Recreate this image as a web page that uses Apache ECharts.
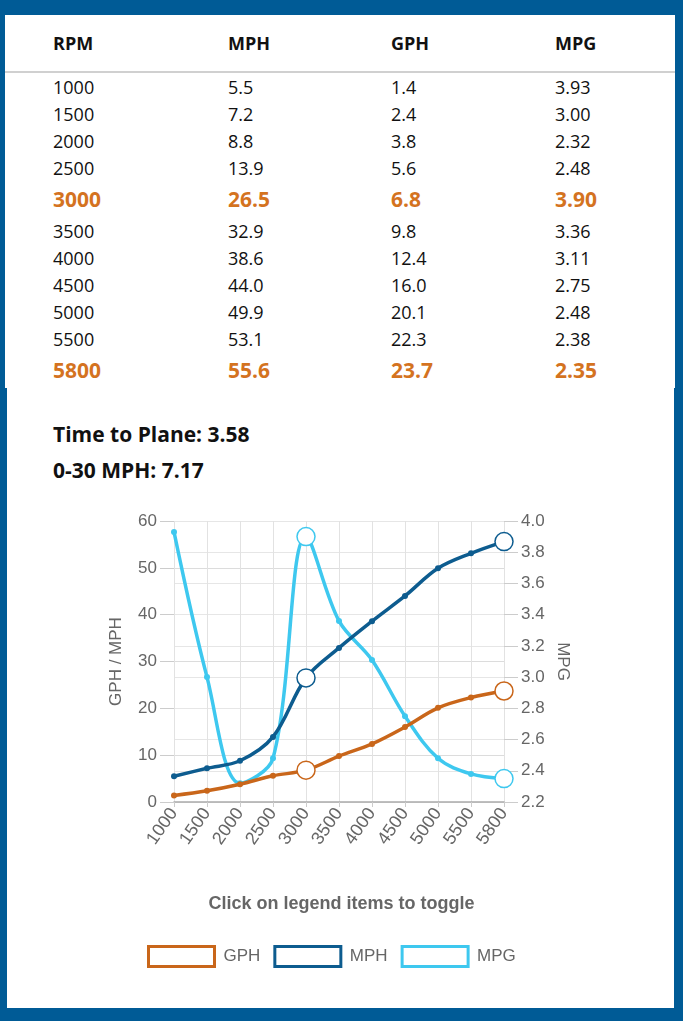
<!DOCTYPE html>
<html>
<head>
<meta charset="utf-8">
<script src="https://cdn.jsdelivr.net/npm/echarts@6/dist/echarts.min.js"></script>
<style>
  html, body { margin: 0; padding: 0; background: #005b96; }
  #page { position: relative; width: 683px; height: 1021px; overflow: hidden; background: #005b96; }
  #top { position: absolute; left: 5px; top: 15px; width: 670px; height: 373px; background: #fff; }
  #bottom { position: absolute; left: 7px; top: 388px; width: 667px; height: 620px; background: #fff; }
  table { position: absolute; left: 0; top: 0; width: 670px; border-collapse: collapse; table-layout: fixed;
          font-family: "Open Sans", sans-serif; color: #111; }
  th { font-weight: bold; font-size: 18px; text-align: left; height: 56px; padding: 0;
       border-bottom: 2px solid #d0d0d0; }
  td { font-size: 18px; height: 27px; padding: 0; line-height: 20px; }
  tr.hl td { font-weight: bold; font-size: 21px; color: #d4731f; height: 36px; }
  .info { position: absolute; left: 53px; font-family: "Open Sans", sans-serif; line-height: 28px;
          font-weight: bold; font-size: 21px; color: #111; }
  #chart { position: absolute; left: 0; top: 500px; width: 683px; height: 500px; }
</style>
</head>
<body>
<div id="page">
  <div id="top"><table id="tbl"></table></div>
  <div id="bottom"></div>
  <div class="info" style="top:420px">Time to Plane: 3.58</div>
  <div class="info" style="top:456px">0-30 MPH: 7.17</div>
  <div id="chart"></div>
</div>
<script>
const rpm = ['1000', '1500', '2000', '2500', '3000', '3500', '4000', '4500', '5000', '5500', '5800']
const mph = [5.5, 7.2, 8.8, 13.9, 26.5, 32.9, 38.6, 44.0, 49.9, 53.1, 55.6]
const gph = [1.4, 2.4, 3.8, 5.6, 6.8, 9.8, 12.4, 16.0, 20.1, 22.3, 23.7]
const mpg = [3.93, 3.00, 2.32, 2.48, 3.90, 3.36, 3.11, 2.75, 2.48, 2.38, 2.35]
const highlightRpm = ['3000', '5800']
const tableHeaders = ['RPM', 'MPH', 'GPH', 'MPG']
const leftTicks = { min: 0, max: 60, step: 10 }
const rightTicks = { min: 2.2, max: 4.0, step: 0.2 }

// table
const tbl = document.getElementById('tbl')
let html = '<colgroup><col style="width:48px"><col style="width:175px"><col style="width:163px">' +
           '<col style="width:164px"><col style="width:120px"></colgroup>'
html += '<tr><th></th>' + tableHeaders.map(h => `<th>${h}</th>`).join('') + '</tr>'
rpm.forEach((r, i) => {
  const cls = highlightRpm.includes(r) ? ' class="hl"' : ''
  html += `<tr${cls}><td></td><td>${r}</td><td>${mph[i].toFixed(1)}</td>` +
          `<td>${gph[i].toFixed(1)}</td><td>${mpg[i].toFixed(2)}</td></tr>`
})
tbl.innerHTML = html

const colors = { GPH: '#c9661a', MPH: '#0d5c8f', MPG: '#3ec8ef' }
const font = 'Liberation Sans, Arial'

function points(values, color) {
  return values.map((v, i) => highlightRpm.includes(rpm[i])
    ? { value: v, symbolSize: 18, itemStyle: { color: '#fff', borderColor: color, borderWidth: 1.5 } }
    : { value: v })
}

function lineSeries(name, values, yAxisIndex, z) {
  const c = colors[name]
  return {
    name, type: 'line', yAxisIndex, z, smooth: 0.35,
    data: points(values, c),
    symbol: 'circle', symbolSize: 6,
    lineStyle: { color: c, width: 3.5 },
    itemStyle: { color: c },
    emphasis: { disabled: true },
  }
}

const axisLabel = { color: '#666', fontFamily: font, fontSize: 17 }
const nameStyle = { color: '#666', fontSize: 17, fontFamily: font }

const chart = echarts.init(document.getElementById('chart'), null, { renderer: 'canvas' })
chart.setOption({
  animation: false,
  textStyle: { fontFamily: font },
  grid: { left: 174, right: 179, top: 21, bottom: 198, containLabel: false },
  title: {
    text: 'Click on legend items to toggle',
    left: 'center', top: 390,
    textStyle: { color: '#666', fontSize: 18, fontWeight: 'bold', fontFamily: font },
  },
  legend: {
    top: 440, left: 142,
    itemWidth: 66, itemHeight: 20, itemGap: 13,
    icon: 'rect',
    textStyle: { color: '#666', fontSize: 17, fontFamily: font, padding: [0, 0, 0, 4] },
    data: ['GPH', 'MPH', 'MPG'].map(n => ({
      name: n, itemStyle: { color: '#fff', borderColor: colors[n], borderWidth: 3 },
    })),
  },
  xAxis: {
    type: 'category', data: rpm, boundaryGap: false,
    axisLine: { lineStyle: { color: '#aaa', width: 1.5 } },
    axisTick: { show: true, length: 5, alignWithLabel: true, lineStyle: { color: '#ccc' } },
    axisLabel: { ...axisLabel, fontSize: 18, rotate: 55, margin: 8, interval: 0 },
    splitLine: { show: true, lineStyle: { color: '#e2e2e2' } },
  },
  yAxis: [
    {
      type: 'value', min: leftTicks.min, max: leftTicks.max, interval: leftTicks.step,
      name: 'GPH / MPH', nameLocation: 'middle', nameGap: 49, nameRotate: 90,
      nameTextStyle: nameStyle,
      axisLine: { show: false },
      axisTick: { show: true, length: 14, lineStyle: { color: '#ccc' } },
      axisLabel: { ...axisLabel, margin: 17 },
      splitLine: { lineStyle: { color: '#dcdcdc' } },
    },
    {
      type: 'value', min: rightTicks.min, max: rightTicks.max, interval: rightTicks.step,
      name: 'MPG', nameLocation: 'middle', nameGap: 50, nameRotate: -90,
      nameTextStyle: nameStyle,
      axisLine: { show: false },
      axisTick: { show: true, length: 14, lineStyle: { color: '#ccc' } },
      axisLabel: { ...axisLabel, margin: 17, formatter: v => v.toFixed(1) },
      splitLine: { show: true, lineStyle: { color: '#e6e6e6' } },
    },
  ],
  series: [
    lineSeries('GPH', gph, 0, 3),
    lineSeries('MPH', mph, 0, 4),
    lineSeries('MPG', mpg, 1, 2),
  ],
})
</script>
</body>
</html>
